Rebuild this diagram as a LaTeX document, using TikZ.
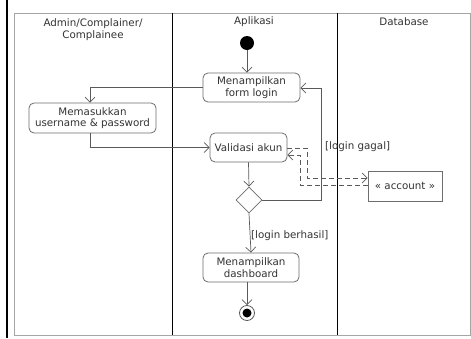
\documentclass[tikz,border=0pt]{standalone}
\usepackage{fontspec}
\setmainfont{DejaVu Sans}
\usetikzlibrary{arrows.meta,shapes.geometric}
\definecolor{edge}{HTML}{5A5A5A}
\definecolor{boxline}{HTML}{6E6E6E}
\definecolor{txt}{HTML}{333333}
\begin{document}
\begin{tikzpicture}[x=1pt,y=-1pt,
  every node/.style={font=\fontsize{10.3}{11.5}\selectfont, text=txt},
  action/.style={draw=boxline, line width=0.8pt, rounded corners=5pt, align=center, inner sep=1pt},
  objbox/.style={draw=boxline, line width=0.8pt, align=center, inner sep=1pt},
  flow/.style={draw=edge, line width=0.7pt, -{Straight Barb[length=5pt,width=10pt]}},
  objflow/.style={draw=edge, line width=0.7pt, dash pattern=on 5pt off 3pt, -{Straight Barb[length=5pt,width=10pt]}},
  lane/.style={draw=black, line width=1pt}]
\useasboundingbox (0,0) rectangle (471,338);
\fill[white] (0,0) rectangle (471,338);

% page edge and swimlane frame
\draw[black, line width=1.2pt] (7,0) -- (7,338);
\draw[gray!70, line width=1pt] (14,13) rectangle (470,335);
\draw[lane] (172,13) -- (172,335);
\draw[lane] (337,13) -- (337,335);

% lane headers
\node[align=center] (h1) at (93,29.5) {Admin/Complainer/\\Complainee};
\node (h2) at (254,22) {Aplikasi};
\node (h3) at (404,22) {Database};

% start / end
\node[circle, fill=black, minimum size=14pt, inner sep=0pt] (start) at (247,43) {};
\node[circle, draw=edge, line width=0.8pt, minimum size=15pt, inner sep=0pt] (stop) at (247,313) {};
\node[circle, fill=black, minimum size=9pt, inner sep=0pt] at (stop) {};

% actions
\node[action, minimum width=97pt, minimum height=29pt] (form) at (251.5,87.5) {Menampilkan\\form login};
\node[action, minimum width=127pt, minimum height=30pt] (input) at (92.5,118) {Memasukkan\\username \& password};
\node[action, minimum width=77pt, minimum height=29pt] (valid) at (248.5,147.5) {Validasi akun};
\node[diamond, draw=boxline, line width=0.8pt, minimum width=26pt, minimum height=26pt, inner sep=0pt] (dec) at (249,200) {};
\node[action, minimum width=96pt, minimum height=29pt] (dash) at (251,267.5) {Menampilkan\\dashboard};
\node[objbox, minimum width=74pt, minimum height=30pt] (acc) at (405,186) {« account »};

% bend points
\coordinate (rt) at (321,88);
\coordinate (a1) at (307,148);
\coordinate (a2) at (307,178);
\coordinate (b1) at (300,185);
\coordinate (b2) at (300,155);

% control flow
\draw[flow] (start) -- (start |- form.north);
\draw[flow] (form.west) -| ([xshift=-2.5pt]input.north);
\draw[flow] ([xshift=-2.5pt]input.south) |- (valid.west);
\draw[flow] (valid.south) -- (dec.north);
\draw[flow] (dec.east) -| (rt) -- (form.east |- rt);
\draw[flow] (dec.south) -- (dash.north);
\draw[flow] (stop |- dash.south) -- (stop.north);

% object flow
\draw[objflow] (valid.east |- a1) -- (a1) -- (a2) -- (acc.west |- a2);
\draw[objflow] (acc.west |- b1) -- (b1) -- (b2) -- (valid.east |- b2);

% guards
\node[anchor=west, inner sep=0pt] (g1) at (325,147) {[login gagal]};
\node[anchor=west, inner sep=0pt] (g2) at (251,236) {[login berhasil]};
\end{tikzpicture}
\end{document}
